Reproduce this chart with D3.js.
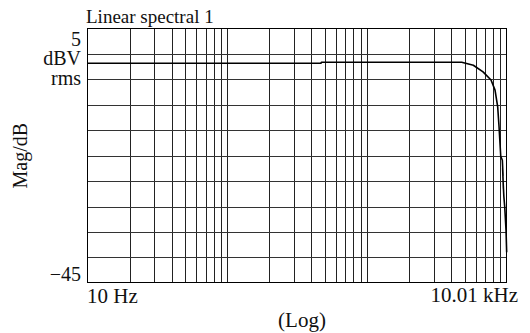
<!DOCTYPE html>
<html>
<head>
<meta charset="utf-8">
<script src="https://cdn.jsdelivr.net/npm/d3@7"></script>
<style>
  body { margin: 0; background: #fff; }
  text { font-family: "Liberation Serif", "Times New Roman", serif; fill: #111; }
</style>
</head>
<body>
<div id="container"></div>
<script>
// frequency (Hz) and magnitude (dBV rms)
var freqs = [10, 300, 469, 472, 2000, 4770, 5776, 6778, 7733, 8260, 8630, 8823, 9075, 9317, 9425, 9360, 9480, 9430, 9550, 9692, 9901, 10005];
var mags  = [-1.8, -1.8, -1.8, -1.6, -1.6, -1.6, -2.2, -3.5, -5.1, -7.1, -10.4, -14.3, -20.1, -20.9, -23.9, -22.5, -26.5, -25.0, -28.0, -30.1, -34.7, -39.0];

var xGridTicks = [20, 30, 40, 50, 60, 70, 80, 90, 100, 200, 300, 400, 500, 600, 700, 800, 900,
                  1000, 2000, 3000, 4000, 5000, 6000, 7000, 8000, 9000];
var yGridTicks = [0, -5, -10, -15, -20, -25, -30, -35, -40];

var width = 530, height = 333;
var margin = {top: 28.7, right: 23.3, bottom: 50.3, left: 87.5};

var svg = d3.select("#container")
  .append("svg")
    .attr("width", width)
    .attr("height", height)
    .attr("id", "chart");

var x = d3.scaleLog()
  .domain([10, 10010])
  .range([margin.left, width - margin.right]);

var y = d3.scaleLinear()
  .domain([-45, 5])
  .range([height - margin.bottom, margin.top]);

var data = freqs.map(function(f, i) { return {f: f, m: mags[i]}; });

// grid
var grid = svg.append("g").attr("shape-rendering", "crispEdges");
grid.selectAll(".vg")
  .data(xGridTicks)
  .enter().append("line")
    .attr("x1", function(d) { return Math.round(x(d)) + 0.5; })
    .attr("x2", function(d) { return Math.round(x(d)) + 0.5; })
    .attr("y1", y(5))
    .attr("y2", y(-45))
    .attr("stroke", "#222")
    .attr("stroke-width", 1.3);

grid.selectAll(".hg")
  .data(yGridTicks)
  .enter().append("line")
    .attr("x1", x(10))
    .attr("x2", x(10010))
    .attr("y1", function(d) { return Math.round(y(d)) + 0.5; })
    .attr("y2", function(d) { return Math.round(y(d)) + 0.5; })
    .attr("stroke", "#333")
    .attr("stroke-width", 1.3);

// frame
grid.append("rect")
  .attr("x", x(10))
  .attr("y", y(5))
  .attr("width", x(10010) - x(10))
  .attr("height", y(-45) - y(5))
  .attr("fill", "none")
  .attr("stroke", "#000")
  .attr("stroke-width", 1.5);

// the curve
svg.append("path")
  .datum(data)
  .attr("fill", "none")
  .attr("stroke", "#000")
  .attr("stroke-width", 1.6)
  .attr("stroke-linejoin", "round")
  .attr("d", d3.line()
    .x(function(d) { return x(d.f); })
    .y(function(d) { return y(d.m); }));

// texts
svg.append("text")
  .attr("x", 86).attr("y", 23)
  .style("font-size", "19px")
  .text("Linear spectral 1");

var yl = svg.append("g").style("font-size", "20px").attr("text-anchor", "end");
yl.append("text").attr("x", 81).attr("y", 46).text("5");
yl.append("text").attr("x", 81).attr("y", 65).text("dBV");
yl.append("text").attr("x", 81).attr("y", 85).text("rms");
yl.append("text").attr("x", 81).attr("y", 281).text("\u221245");

svg.append("text")
  .attr("x", 87).attr("y", 303)
  .style("font-size", "21px")
  .text("10 Hz");

svg.append("text")
  .attr("x", 518).attr("y", 302)
  .attr("text-anchor", "end")
  .style("font-size", "21px")
  .text("10.01 kHz");

svg.append("text")
  .attr("x", 302).attr("y", 327)
  .attr("text-anchor", "middle")
  .style("font-size", "21px")
  .text("(Log)");

svg.append("text")
  .attr("transform", "translate(27," + ((y(5) + y(-45)) / 2) + ") rotate(-90)")
  .attr("text-anchor", "middle")
  .style("font-size", "20px")
  .text("Mag/dB");
</script>
</body>
</html>
